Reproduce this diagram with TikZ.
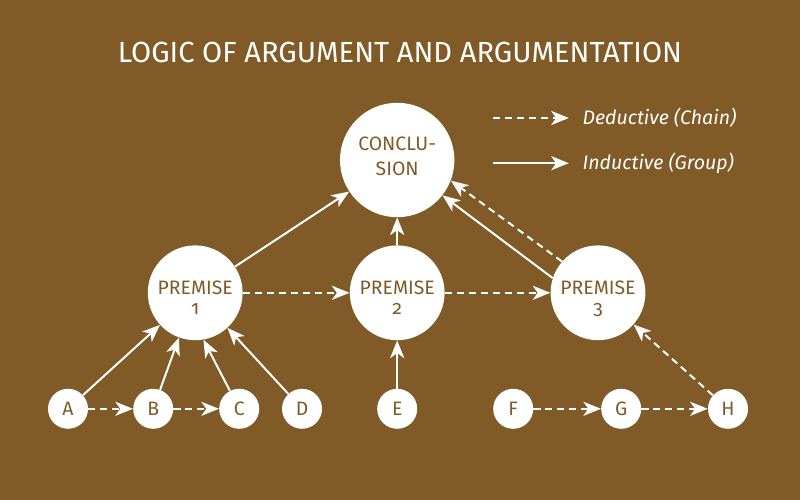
\documentclass[tikz,border=0pt]{standalone}
\usepackage{fontspec}
\setmainfont{Fira Sans}[Numbers=OldStyle]
\usetikzlibrary{arrows.meta}
\usetikzlibrary{positioning}
\definecolor{bgbrown}{RGB}{128,91,40}
\tikzset{induct/.style = {draw=white, line width=1.4pt,
                          -{Stealth[length=12.5pt, width=10pt, inset=3.5pt]}}}
\tikzset{deduct/.style = {induct, dash pattern=on 5pt off 3.5pt}}
\tikzset{bigcirc/.style = {circle, fill=white, text=bgbrown, align=center, inner sep=0,
                           minimum size=2.37cm, text height=31pt, text depth=0pt,
                           font=\fontsize{13.8}{14.5}\selectfont}}
\tikzset{smallcirc/.style = {circle, fill=white, text=bgbrown, inner sep=0,
                             minimum size=1cm, font=\fontsize{13.8}{15}\selectfont}}
\begin{document}
\begin{tikzpicture}
      \fill [bgbrown] (0, 0) rectangle (20, 12.5);
      \node [text=white, font=\fontsize{20.7}{24}\selectfont] (title) at (10, 11.2)
        {LOGIC OF ARGUMENT AND ARGUMENTATION};

      % legend
      \coordinate (dstart) at (12.33, 9.55);
      \coordinate (dend) at (14.22, 9.55);
      \coordinate (istart) at (12.33, 8.42);
      \coordinate (iend) at (14.22, 8.42);
      \draw [deduct] (dstart) -- (dend);
      \draw [induct] (istart) -- (iend);
      \node [right=0.22 of dend, text=white, font=\itshape\fontsize{13.9}{16}\selectfont] (dlabel) {Deductive (Chain)};
      \node [right=0.22 of iend, text=white, font=\itshape\fontsize{13.9}{16}\selectfont] (ilabel) {Inductive (Group)};

      % conclusion and premises
      \node [bigcirc, minimum size=2.86cm, text height=27pt, text depth=5pt,
             font=\fontsize{13.8}{17.5}\selectfont] (concl) at (9.93, 8.5) {CONCLU-\\SION};
      \node [bigcirc] (p1) at (4.88, 5.18) {PREMISE\\1};
      \node [bigcirc] (p2) at (9.93, 5.18) {PREMISE\\2};
      \node [bigcirc] (p3) at (14.95, 5.18) {PREMISE\\3};

      % evidence
      \node [smallcirc] (a) at (1.7, 2.28) {A};
      \node [smallcirc] (b) at (3.83, 2.28) {B};
      \node [smallcirc] (c) at (5.98, 2.28) {C};
      \node [smallcirc] (d) at (7.55, 2.28) {D};
      \node [smallcirc] (e) at (9.93, 2.28) {E};
      \node [smallcirc] (f) at (12.83, 2.28) {F};
      \node [smallcirc] (g) at (15.53, 2.28) {G};
      \node [smallcirc] (h) at (18.2, 2.28) {H};

      \draw [induct] (a) -- (p1);
      \draw [induct] (b) -- (p1);
      \draw [induct] (c) -- (p1.-80);
      \draw [induct] (d) -- (p1);
      \draw [deduct] (a) -- (b);
      \draw [deduct] (b) -- (c);
      \draw [induct] (e) -- (p2);
      \draw [deduct] (f) -- (g);
      \draw [deduct] (g) -- (h);
      \draw [deduct] (h) -- (p3);

      \draw [induct] (p1) -- (concl);
      \draw [induct] (p2) -- (concl);
      \draw [induct] (p3.162) -- (concl.-38);
      \draw [deduct] (p3.139) -- (concl.-21);
      \draw [deduct] (p1) -- (p2);
      \draw [deduct] (p2) -- (p3);
    \end{tikzpicture}
\end{document}
